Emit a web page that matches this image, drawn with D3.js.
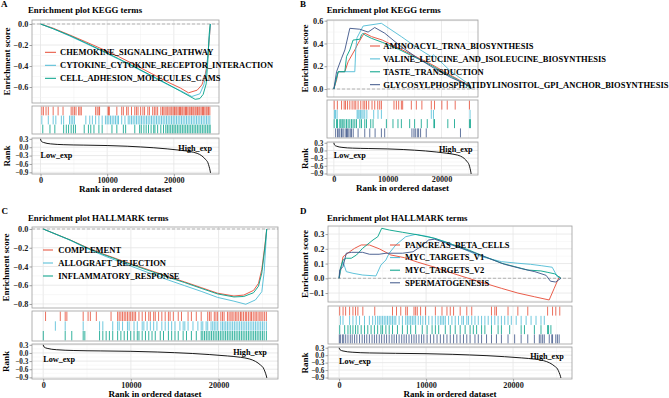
<!DOCTYPE html>
<html><head><meta charset="utf-8">
<script src="https://cdn.jsdelivr.net/npm/d3@7"></script>
<style>
html,body{margin:0;padding:0;background:#fff;}
svg{display:block;}
text{font-family:"Liberation Serif","Times New Roman",serif;font-weight:bold;}
</style></head><body>
<svg id="chart" width="669" height="398"></svg>
<script>
// ---------------- data ----------------
const N = 25500;
const xTicks = [0, 10000, 20000];
const xMinor = [5000, 15000, 25000];
const rankTicks = [0.3, 0.0, -0.3, -0.6, -0.9];
const rankDomain = [-0.96, 0.33];

// ranked list metric (rank, value)
const rankMetric = [[0,0.3],[100,0.22],[450,0.17],[1500,0.12],[3500,0.09],[6500,0.075],[10000,0.06],[13000,0.035],[15000,0.01],[17000,-0.02],[19000,-0.06],[21000,-0.11],[22500,-0.16],[23500,-0.22],[24200,-0.31],[24800,-0.45],[25100,-0.55],[25300,-0.7],[25450,-0.85],[25500,-0.92]];

// Panel A - KEGG
const termsA = ["CHEMOKINE_SIGNALING_PATHWAY","CYTOKINE_CYTOKINE_RECEPTOR_INTERACTION","CELL_ADHESION_MOLECULES_CAMS"];
const esA1 = [[0,0],[1900,-0.04],[4400,-0.105],[6800,-0.17],[9300,-0.24],[11700,-0.31],[14200,-0.39],[16600,-0.47],[19000,-0.55],[21000,-0.61],[22200,-0.655],[23500,-0.63],[24200,-0.58],[24650,-0.50],[25000,-0.38],[25300,-0.15],[25500,0]];
const esA2 = [[0,0],[1900,-0.045],[4400,-0.115],[6800,-0.185],[9300,-0.26],[11700,-0.335],[14200,-0.415],[16600,-0.495],[19000,-0.575],[21000,-0.635],[22700,-0.69],[23900,-0.665],[24500,-0.58],[24900,-0.44],[25200,-0.22],[25500,0]];
const esA3 = [[0,0],[1900,-0.045],[4400,-0.11],[6800,-0.18],[9300,-0.255],[11700,-0.33],[14200,-0.41],[16600,-0.49],[19000,-0.57],[21000,-0.64],[23200,-0.717],[23900,-0.71],[24400,-0.67],[24850,-0.57],[25100,-0.35],[25300,-0.10],[25450,0]];
const hitsA1 = [200,440,830,1170,1900,2640,3380,4600,4850,5090,5330,5720,5920,6120,8270,8510,8760,8860,10130,10230,10320,11450,12180,12430,12920,13160,13650,14140,14390,14630,15020,15360,15610,16100,16340,16830,17080,17320,17570,18050,18300,18500,18700,18950,19100,19300,19550,19700,19900,20100,20300,20450,20650,20850,21000,21200,21350,21550,21750,21900,22100,22300,22450,22650,22850,23000,23200,23350,23550,23750,23900,24100,24300,24450,24650,24850,25000,25200,25400];
const hitsA2 = [200,1170,1900,2300,3130,3470,4350,4600,4840,5090,6800,7390,7780,8270,8760,9250,9740,10000,10250,10500,10750,11000,11250,11500,11700,12180,12670,13160,13400,13650,13900,14150,14400,14650,14900,15150,15400,15650,15900,16150,16400,16650,16900,17150,17400,17650,17900,18150,18400,18650,18900,19150,19400,19650,19900,20150,20400,20650,20900,21150,21400,21650,21900,22150,22400,22650,22900,23150,23400,23650,23900,24150,24400,24650,24900,25150,25400];
const hitsA3 = [340,1420,2150,3470,3870,4210,4600,4940,5240,6560,7190,7540,8020,8760,9250,10720,11450,12430,12770,14140,14870,15120,15510,15850,16200,16590,16980,17170,17570,18050,18450,18790,19030,19280,19530,19780,20030,20280,20530,20780,21030,21280,21530,21780,22030,22280,22530,22780,23030,23280,23530,23780,24030,24280,24530,24780,25030,25280,25450];

// Panel B - KEGG
const termsB = ["AMINOACYL_TRNA_BIOSYNTHESIS","VALINE_LEUCINE_AND_ISOLEUCINE_BIOSYNTHESIS","TASTE_TRANSDUCTION","GLYCOSYLPHOSPHATIDYLINOSITOL_GPI_ANCHOR_BIOSYNTHESIS"];
const esB1 = [[0,0],[500,0.079],[800,0.152],[2040,0.152],[2650,0.24],[3890,0.343],[4500,0.40],[5430,0.475],[5740,0.49],[7000,0.46],[9000,0.43],[12000,0.36],[15000,0.29],[18000,0.22],[21000,0.14],[24000,0.06],[25300,0.03],[25500,0]];
const esB2 = [[0,0],[800,0.152],[3890,0.152],[4070,0.35],[4300,0.45],[5430,0.553],[8830,0.577],[12540,0.46],[15620,0.357],[18100,0.284],[18500,0.30],[21800,0.152],[24870,0.05],[25500,0]];
const esB3 = [[0,0],[310,0.064],[800,0.152],[2040,0.152],[2350,0.284],[2960,0.343],[3570,0.43],[4820,0.437],[5130,0.475],[5430,0.49],[5740,0.475],[6980,0.445],[9000,0.41],[12000,0.35],[15000,0.28],[18000,0.21],[21000,0.13],[23000,0.08],[24570,0.035],[25500,0]];
const esB4 = [[0,0],[500,0.152],[1430,0.27],[2040,0.343],[2960,0.533],[4820,0.525],[6360,0.50],[7590,0.54],[9450,0.49],[12540,0.37],[15620,0.27],[18700,0.18],[21800,0.10],[24870,0.035],[25500,0]];
const hitsB1 = [60,650,1430,1910,2170,2540,2960,3390,3760,4070,4500,5000,5430,5740,6060,6480,7090,7590,8150,8520,8830,11170,11610,12040,12540,12780,14390,15320,16350,18100,18700,20060,21060,22540,25190];
const hitsB2 = [100,300,600,4320,4500,4700,4940,5200,5430,5740,6130,7400,8200,8830,18100,18500,25300];
const hitsB3 = [60,500,680,1110,1300,1540,1730,2040,2350,2650,2960,3280,3570,3890,4200,4820,5130,5740,6060,6850,7280,9760,10980,11910,12540,14080,15000,16240,17350,18580,18700,21170,22410,25190,25380];
const hitsB4 = [330,680,920,1110,1420,1540,1850,2230,2350,2540,2780,3050,3280,3600,4500,5740,6670,7660,8830,9440,14500,14870,15130,15500,15740,16110,17160,23520];

// Panel C - HALLMARK
const termsC = ["COMPLEMENT","ALLOGRAFT_REJECTION","INFLAMMATORY_RESPONSE"];
const esC1 = [[0,0],[3070,-0.117],[4930,-0.195],[6800,-0.265],[8680,-0.328],[10540,-0.388],[12410,-0.448],[14280,-0.508],[16140,-0.565],[18010,-0.625],[19890,-0.685],[21750,-0.715],[22870,-0.705],[23990,-0.655],[24550,-0.58],[24930,-0.43],[25300,-0.16],[25490,0]];
const esC2 = [[0,0],[3070,-0.12],[4930,-0.205],[6800,-0.28],[8680,-0.35],[10540,-0.415],[12410,-0.48],[14280,-0.545],[16140,-0.605],[18010,-0.665],[19890,-0.73],[21750,-0.77],[23100,-0.803],[24200,-0.757],[24930,-0.669],[25200,-0.455],[25380,-0.171],[25490,0]];
const esC3 = [[0,0],[3070,-0.117],[4930,-0.199],[6800,-0.27],[8680,-0.334],[10540,-0.395],[12410,-0.455],[14280,-0.516],[16140,-0.572],[18010,-0.633],[19890,-0.693],[21750,-0.725],[22870,-0.72],[23990,-0.68],[24550,-0.61],[24930,-0.47],[25300,-0.18],[25490,0]];
const hitsC1 = [270,1950,2510,2700,4560,5120,5380,6060,7740,8490,8670,8860,9050,9240,9420,9610,9800,9980,10170,10360,10540,10920,11290,11660,12040,12220,12600,12780,13160,13530,13910,14280,14470,14840,15400,15770,16520,16900,17460,18020,18760,18960,19140,19510,19700,19890,20260,20450,20630,21010,21200,21400,21550,21750,21950,22100,22300,22500,22650,22850,23050,23200,23400,23600,23750,23950,24150,24300,24500,24700,24850,25050,25250,25450];
const hitsC2 = [1390,2510,4560,6430,6800,7930,8490,8670,9050,9610,9800,10360,10730,11290,11480,11850,12220,12600,12970,13530,13910,14280,14650,15030,15590,15960,16150,16520,17080,17640,18020,18200,18580,18760,19140,19330,19510,19700,19900,20260,20450,20630,20820,21010,21200,21400,21600,21800,22000,22200,22400,22600,22800,23000,23200,23400,23600,23800,24000,24200,24400,24600,24800,25000,25200,25450];
const hitsC3 = [10,2510,3260,4560,4750,6430,6800,7180,7550,7930,8490,8860,9240,9610,9980,10360,10730,10920,11290,11660,12040,12410,12780,13350,13720,14280,14650,15030,15400,15960,16340,16900,17460,18020,18200,18400,18600,18800,19000,19200,19400,19600,19800,20000,20200,20400,20600,20800,21000,21200,21400,21600,21800,22000,22200,22400,22600,22800,23000,23200,23400,23600,23800,24000,24200,24400,24600,24800,25000,25200,25450];

// Panel D - HALLMARK
const termsD = ["PANCREAS_BETA_CELLS","MYC_TARGETS_V1","MYC_TARGETS_V2","SPERMATOGENESIS"];
const esD1 = [[0,0],[260,0.079],[450,0.146],[1210,0.18],[1780,0.203],[2540,0.226],[3480,0.226],[4620,0.2],[5580,0.17],[5950,0.158],[7500,0.14],[9000,0.11],[11000,0.075],[13000,0.035],[14860,0],[16760,-0.034],[18660,-0.068],[20550,-0.1],[22450,-0.125],[24150,-0.147],[24730,-0.068],[25300,0.01],[25500,0]];
const esD2 = [[0,0],[200,0.06],[450,0.113],[830,0.045],[1590,0.034],[2730,0.022],[4240,0.016],[4810,0.09],[5380,0.124],[5760,0.17],[6520,0.226],[7660,0.282],[8800,0.298],[10310,0.282],[12210,0.248],[14110,0.203],[16390,0.146],[18660,0.113],[20550,0.102],[22000,0.095],[23300,0.085],[24500,0.075],[25100,0.01],[25500,0]];
const esD3 = [[0,0],[150,0.068],[450,0.124],[830,0.136],[1400,0.136],[2000,0.158],[2700,0.203],[3900,0.26],[4450,0.282],[4900,0.339],[5800,0.327],[7300,0.312],[9000,0.295],[11000,0.271],[13000,0.23],[14900,0.192],[16800,0.146],[18700,0.102],[20200,0.079],[21700,0.056],[23200,0.05],[24000,0.04],[24800,0.03],[25500,0]];
const esD4 = [[0,0],[70,0.056],[450,0.079],[830,0.17],[1400,0.176],[2700,0.176],[3500,0.163],[4600,0.163],[5400,0.17],[7300,0.17],[8500,0.18],[9500,0.22],[10300,0.26],[11000,0.265],[13000,0.225],[15000,0.185],[17000,0.14],[19000,0.095],[21000,0.065],[22500,0.045],[23800,0.02],[24300,-0.02],[24900,-0.025],[25500,0]];
const hitsD1 = [72,455,750,1210,1590,1890,2160,2730,4100,6140,6600,7090,7660,7850,8610,8800,8990,9370,9930,11070,11830,12400,12780,13160,13920,14680,15250,17520,17900,18090,19420,20550,21690,23970,24540,24910,25370];
const hitsD2 = [150,450,1210,1590,1970,2350,2920,3480,3860,4170,4430,4620,4810,5000,5190,5380,5570,5760,5950,6140,6330,6520,6900,7280,7660,7850,8040,8230,8420,8610,8800,9100,9370,9630,9930,10310,10690,11070,11380,11640,11830,12020,12210,12590,12970,13350,13730,14110,14300,14680,14870,15250,15620,16000,16380,16760,17140,17520,17900,18280,18660,19040,19420,19800,20360,20930,21500,22070,22640,23210,23590];
const hitsD3 = [72,640,1020,1290,1590,1890,2160,2540,2920,3300,3680,4060,4430,4810,5000,5380,5760,6140,6710,7280,7850,8230,8800,9560,10120,10690,11070,11450,12210,12780,13350,13920,14490,15060,15430,15810,16380,16760,17520,18280,18660,19610,20930,21310,22450,23210,23970,24080,24350];
const hitsD4 = [30,150,380,530,760,1020,1290,1510,1780,2040,2350,2650,2920,3180,3480,3790,4060,4320,4620,4890,5190,5460,5760,6070,6330,6600,6900,7200,7470,7730,8040,8340,8610,8870,9180,9480,9740,10120,10500,10880,11260,11640,12020,12400,12780,13160,13540,13920,14300,14680,15060,15620,16000,16380,16950,17520,18090,18660,19420,20180,20930,21690,22450,23020,23200,23400,23590,24160,24450,24540,24910,25100,25300];

const colors = ["#E64B35","#4DBBD5","#00A087","#3C5488"];

// ---------------- layout ----------------
const panels = [
  {letter:"A", lx:1, ly:7, title:"Enrichment plot KEGG terms", tx:28, ty:13.3,
   x0:32, x1:219, main:[20,103], rug:[106,134], rank:[138,174],
   esDomain:[-0.752,0.038], esTicks:[0,-0.2,-0.4,-0.6],
   terms:termsA, es:[esA1,esA2,esA3], hits:[hitsA1,hitsA2,hitsA3],
   leg:{k0:45,k1:56,tx:60,y0:52.3,dy:13}, tickY:183, xtY:192, ytX:7,
   lowOff:0.47, highOff:0.28, highDx:1.5},
  {letter:"B", lx:300, ly:7.3, title:"Enrichment plot KEGG terms", tx:326.7, ty:13.3,
   x0:327, x1:478, main:[20,97], rug:[100,138], rank:[142,175],
   esDomain:[-0.07,0.606], esTicks:[0,0.2,0.4,0.6],
   terms:termsB, es:[esB1,esB2,esB3,esB4], hits:[hitsB1,hitsB2,hitsB3,hitsB4],
   leg:{k0:370,k1:380,tx:383.3,y0:46,dy:12.9}, tickY:182, xtY:191, ytX:305,
   lowOff:0.38, highOff:0.21, highDx:1.5},
  {letter:"C", lx:1.5, ly:214.3, title:"Enrichment plot HALLMARK terms", tx:28, ty:220.6,
   x0:32, x1:278, main:[227,308], rug:[311,341], rank:[344,379],
   esDomain:[-0.843,0.0213], esTicks:[0,-0.2,-0.4,-0.6,-0.8],
   terms:termsC, es:[esC1,esC2,esC3], hits:[hitsC1,hitsC2,hitsC3],
   leg:{k0:43,k1:53,tx:58.3,y0:250,dy:13}, tickY:388, xtY:397, ytX:6,
   lowOff:0.44, highOff:0.23, highDx:0},
  {letter:"D", lx:300, ly:214.3, title:"Enrichment plot HALLMARK terms", tx:327, ty:220.6,
   x0:328, x1:572, main:[226,302], rug:[306,344], rank:[347,379],
   esDomain:[-0.1607,0.3546], esTicks:[-0.1,0,0.1,0.2,0.3],
   terms:termsD, es:[esD1,esD2,esD3,esD4], hits:[hitsD1,hitsD2,hitsD3,hitsD4],
   leg:{k0:390,k1:400,tx:405,y0:245,dy:12.6}, tickY:388, xtY:397, ytX:304.5,
   lowOff:0.45, highOff:0.27, highDx:3}
];

// ---------------- drawing ----------------
const svg = d3.select("#chart");
svg.append("rect").attr("width",669).attr("height",398).attr("fill","#fff");
const gridMajor = "#E4E4E4", gridMinor = "#F1F1F1", border = "#9E9E9E", tickCol = "#8A8A8A", txtCol = "#1a1a1a";
const fmt = d3.format(".1f");

function minorOf(ticks, domain){
  const s = [...ticks].sort((a,b)=>a-b);
  const step = s.length>1 ? s[1]-s[0] : 0.1;
  const out = [];
  const lo = Math.min(...domain), hi = Math.max(...domain);
  for(let v = s[0]-step/2; v<=hi; v+=step){ if(v>=lo) out.push(v); }
  return out;
}

panels.forEach((P, pi) => {
  const g = svg.append("g");
  const x = d3.scaleLinear().domain([-0.05*N, 1.05*N]).range([P.x0, P.x1]);
  const yE = d3.scaleLinear().domain(P.esDomain).range([P.main[1], P.main[0]]);
  const yR = d3.scaleLinear().domain(rankDomain).range([P.rank[1], P.rank[0]]);
  const rows = d3.scaleBand().domain(P.terms).range([P.rug[0]+0.6, P.rug[1]-0.6]).paddingInner(0.03);

  const boxes = {main:P.main, rug:P.rug, rank:P.rank};
  Object.entries(boxes).forEach(([k,b]) => {
    svg.append("clipPath").attr("id",`clip${pi}${k}`).append("rect")
      .attr("x",P.x0).attr("y",b[0]).attr("width",P.x1-P.x0).attr("height",b[1]-b[0]);
  });

  function vgrid(b){
    xMinor.forEach(v => g.append("line").attr("x1",x(v)).attr("x2",x(v)).attr("y1",b[0]).attr("y2",b[1]).attr("stroke",gridMinor).attr("stroke-width",0.5));
    xTicks.forEach(v => g.append("line").attr("x1",x(v)).attr("x2",x(v)).attr("y1",b[0]).attr("y2",b[1]).attr("stroke",gridMajor).attr("stroke-width",0.8));
  }
  function hgrid(y, ticks, domain){
    minorOf(ticks, domain).forEach(v => g.append("line").attr("x1",P.x0).attr("x2",P.x1).attr("y1",y(v)).attr("y2",y(v)).attr("stroke",gridMinor).attr("stroke-width",0.5));
    ticks.forEach(v => g.append("line").attr("x1",P.x0).attr("x2",P.x1).attr("y1",y(v)).attr("y2",y(v)).attr("stroke",gridMajor).attr("stroke-width",0.8));
  }
  vgrid(P.main); hgrid(yE, P.esTicks, P.esDomain);
  vgrid(P.rug);
  vgrid(P.rank); hgrid(yR, rankTicks, rankDomain);

  g.append("line").attr("x1",P.x0).attr("x2",P.x1).attr("y1",yE(0)).attr("y2",yE(0))
    .attr("stroke","#A6A6A6").attr("stroke-width",0.8).attr("stroke-dasharray","3,2");

  const line = d3.line().x(d=>x(d[0])).y(d=>yE(d[1]));
  const gm = g.append("g").attr("clip-path",`url(#clip${pi}main)`);
  P.es.forEach((s,i) => {
    gm.append("path").datum(s).attr("d",line).attr("fill","none")
      .attr("stroke",colors[i]).attr("stroke-width",0.9);
  });

  const gr = g.append("g").attr("clip-path",`url(#clip${pi}rug)`);
  P.hits.forEach((h,i) => {
    const t = P.terms[i];
    gr.selectAll(null).data(h).enter().append("line")
      .attr("x1",d=>x(d)).attr("x2",d=>x(d))
      .attr("y1",rows(t)).attr("y2",rows(t)+rows.bandwidth())
      .attr("stroke",colors[i]).attr("stroke-width",0.8);
  });

  const gk = g.append("g").attr("clip-path",`url(#clip${pi}rank)`);
  gk.append("path").datum(rankMetric)
    .attr("d",d3.line().x(d=>x(d[0])).y(d=>yR(d[1])).curve(d3.curveMonotoneX))
    .attr("fill","none").attr("stroke","#000").attr("stroke-width",0.9);
  const rh = P.rank[1]-P.rank[0];
  g.append("text").attr("x",x(0)).attr("y",P.rank[0]+rh*P.lowOff+3)
    .attr("font-size",8.2).attr("fill","#000").text("Low_exp");
  g.append("text").attr("x",x(N)+P.highDx).attr("y",P.rank[0]+rh*P.highOff+3)
    .attr("text-anchor","end").attr("font-size",8.2).attr("fill","#000").text("High_exp");

  [P.main,P.rug,P.rank].forEach(b => g.append("rect").attr("x",P.x0).attr("y",b[0])
    .attr("width",P.x1-P.x0).attr("height",b[1]-b[0]).attr("fill","none")
    .attr("stroke",border).attr("stroke-width",0.8));

  const ayE = g.append("g").attr("transform",`translate(${P.x0},0)`)
    .call(d3.axisLeft(yE).tickValues(P.esTicks).tickFormat(fmt).tickSize(2.5).tickPadding(1.2));
  const ayR = g.append("g").attr("transform",`translate(${P.x0},0)`)
    .call(d3.axisLeft(yR).tickValues(rankTicks).tickFormat(fmt).tickSize(2.5).tickPadding(1.2));
  const ax = g.append("g").attr("transform",`translate(0,${P.rank[1]})`)
    .call(d3.axisBottom(x).tickValues(xTicks).tickFormat(d3.format("d")).tickSize(2.5).tickPadding(1));
  [ayE,ayR,ax].forEach(a => {
    a.select(".domain").remove();
    a.selectAll(".tick line").attr("stroke",tickCol).attr("stroke-width",0.8);
    a.selectAll(".tick text").attr("font-size",8.2).attr("fill",txtCol)
      .attr("font-family","'Liberation Serif','Times New Roman',serif").attr("font-weight","bold");
  });
  ayR.selectAll(".tick text").attr("font-size",7.2);
  ax.selectAll(".tick text").attr("dy",null).attr("y",null)
    .attr("transform",`translate(0,${P.tickY - P.rank[1]})`);

  g.append("text").attr("x",P.tx).attr("y",P.ty).attr("font-size",8.8).attr("fill","#000").text(P.title);
  g.append("text").attr("x",P.lx).attr("y",P.ly).attr("font-size",9).attr("fill","#000").text(P.letter);
  g.append("text").attr("x",(P.x0+P.x1)/2).attr("y",P.xtY).attr("text-anchor","middle")
    .attr("font-size",9).attr("fill","#000").text("Rank in ordered dataset");
  g.append("text").attr("transform",`translate(${P.ytX},${(P.main[0]+P.main[1])/2}) rotate(-90)`)
    .attr("text-anchor","middle").attr("dy","0.35em").attr("font-size",9).attr("fill","#000").text("Enrichment score");
  g.append("text").attr("transform",`translate(${P.ytX},${(P.rank[0]+P.rank[1])/2}) rotate(-90)`)
    .attr("text-anchor","middle").attr("dy","0.35em").attr("font-size",9).attr("fill","#000").text("Rank");

  P.terms.forEach((t,i) => {
    const yy = P.leg.y0 + i*P.leg.dy;
    g.append("line").attr("x1",P.leg.k0).attr("x2",P.leg.k1).attr("y1",yy).attr("y2",yy)
      .attr("stroke",colors[i]).attr("stroke-width",1);
    g.append("text").attr("x",P.leg.tx).attr("y",yy).attr("dy","0.33em")
      .attr("font-size",8.5).attr("fill","#000").text(t);
  });
});
</script></body></html>
